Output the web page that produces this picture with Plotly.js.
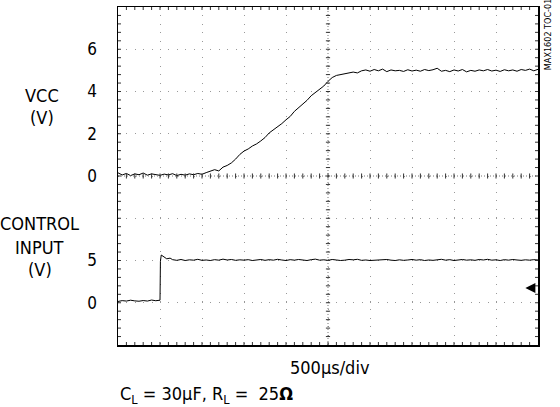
<!DOCTYPE html>
<html>
<head>
<meta charset="utf-8">
<script src="https://cdn.plot.ly/plotly-3.0.1.min.js"></script>
<style>html,body{margin:0;padding:0;background:#fff;}#chart{width:560px;height:407px;}</style>
</head>
<body>
<div id="chart"></div>
<script>
// ---- data ----
// time in microseconds (500 us/div, 10 div)
const vccTimeUs = [
  0,50,100,150,200,250,300,350,400,450,
  500,550,600,650,700,750,800,850,900,950,
  1000,1050,1100,1150,1200,1250,1300,1350,1400,1450,
  1500,1550,1600,1650,1700,1750,1800,1850,1900,1950,
  2000,2050,2100,2150,2200,2250,2300,2350,2400,2450,
  2500,2550,2600,2650,2700,2750,2800,2850,2900,2950,
  3000,3050,3100,3150,3200,3250,3300,3350,3400,3450,
  3500,3550,3600,3650,3700,3750,3800,3850,3900,3950,
  4000,4050,4100,4150,4200,4250,4300,4350,4400,4450,
  4500,4550,4600,4650,4700,4750,4800,4850,4900,4950,
  5000
];
const vccVolts = [
  0.15,0.05,0.12,0.02,0.10,0.06,0.14,0.04,0.10,0.08,
  0.03,0.09,0.05,0.11,0.02,0.08,0.04,0.10,0.06,0.12,
  0.08,0.16,0.22,0.30,0.24,0.42,0.50,0.62,0.80,1.02,
  1.18,1.28,1.42,1.52,1.66,1.82,2.04,2.18,2.30,2.48,
  2.66,2.82,3.06,3.22,3.40,3.58,3.80,3.94,4.08,4.26,
  4.48,4.66,4.76,4.80,4.84,4.86,4.92,4.88,4.98,5.02,
  4.96,5.04,4.98,5.06,4.94,5.02,4.98,5.00,4.95,5.03,
  4.97,5.01,4.96,5.04,4.99,5.03,5.10,4.96,5.00,4.94,
  5.02,4.97,5.04,4.93,5.00,4.96,5.02,4.98,5.04,4.97,
  5.01,4.95,5.03,4.98,5.02,4.96,5.04,5.00,5.06,4.98,
  5.05
];
const ctrlTimeUs = [
  0,50,100,150,200,250,300,350,400,450,500,
  505,515,540,580,620,
  650,700,750,800,850,900,950,1000,1050,1100,
  1150,1200,1250,1300,1350,1400,1450,1500,1550,1600,
  1650,1700,1750,1800,1850,1900,1950,2000,2050,2100,
  2150,2200,2250,2300,2350,2400,2450,2500,2550,2600,
  2650,2700,2750,2800,2850,2900,2950,3000,3050,3100,
  3150,3200,3250,3300,3350,3400,3450,3500,3550,3600,
  3650,3700,3750,3800,3850,3900,3950,4000,4050,4100,
  4150,4200,4250,4300,4350,4400,4450,4500,4550,4600,
  4650,4700,4750,4800,4850,4900,4950,5000
];
const ctrlVolts = [
  0.15,0.25,0.20,0.30,0.22,0.18,0.26,0.20,0.32,0.24,0.30,
  4.90,5.65,5.50,5.20,5.28,
  5.10,5.02,5.12,5.00,5.08,5.04,5.14,5.02,5.06,5.00,
  5.10,5.04,5.16,5.06,5.12,5.02,5.08,5.04,5.10,5.00,
  5.06,5.12,5.02,5.10,5.04,5.14,5.06,5.00,5.10,5.04,
  5.12,5.06,5.00,5.10,5.16,5.04,5.08,5.02,5.12,5.06,
  5.00,5.04,5.12,5.08,5.14,5.02,5.06,5.00,5.04,5.10,
  5.06,5.12,5.04,5.00,5.08,5.02,5.06,5.12,5.04,5.10,
  5.00,5.06,5.02,5.08,5.14,5.04,5.10,5.00,5.06,5.12,
  5.04,5.08,5.02,5.12,5.06,5.14,5.04,5.08,5.00,5.10,
  5.04,5.12,5.06,5.02,5.08,5.04,5.10,5.06
];
const vccTickVals = [0, 2, 4, 6];
const ctrlTickVals = [0, 5];

// ---- styling / layout ----
const FONT = "'Liberation Sans Narrow', 'Arial Narrow', 'DejaVu Sans Condensed', sans-serif";
const gridDash = '1px,7.4px';
const gridColor = '#999';

const traces = [
  {x: vccTimeUs, y: vccVolts, yaxis: 'y2', type: 'scatter', mode: 'lines',
   line: {color: '#000', width: 1}, hoverinfo: 'skip'},
  {x: ctrlTimeUs, y: ctrlVolts, yaxis: 'y3', type: 'scatter', mode: 'lines',
   line: {color: '#000', width: 1}, hoverinfo: 'skip'}
];

// graticule decoration: centre lines and small division ticks
const tickCol = '#333';
const shapes = [
  {type: 'line', xref: 'x', yref: 'paper', x0: 2500, x1: 2500, y0: 0, y1: 1,
   line: {color: '#777', width: 1, dash: '1px,2px'}},
  {type: 'line', xref: 'paper', yref: 'y', x0: 0, x1: 1, y0: 4, y1: 4,
   line: {color: '#777', width: 1, dash: '1px,2px'}}
];
const hTick = 3 / 338, wTick = 3 / 420;
for (let t = 100; t < 5000; t += 100) {
  shapes.push({type: 'line', xref: 'x', yref: 'y', x0: t, x1: t, y0: 3.94, y1: 4.06,
    line: {color: tickCol, width: 1}});
  shapes.push({type: 'line', xref: 'x', yref: 'paper', x0: t, x1: t, y0: 0, y1: hTick,
    line: {color: tickCol, width: 1}});
  shapes.push({type: 'line', xref: 'x', yref: 'paper', x0: t, x1: t, y0: 1 - hTick, y1: 1,
    line: {color: tickCol, width: 1}});
}
for (let d = 0.2; d < 7.99; d += 0.2) {
  shapes.push({type: 'line', xref: 'x', yref: 'y', x0: 2475, x1: 2525, y0: d, y1: d,
    line: {color: tickCol, width: 1}});
  shapes.push({type: 'line', xref: 'paper', yref: 'y', x0: 0, x1: wTick, y0: d, y1: d,
    line: {color: tickCol, width: 1}});
  shapes.push({type: 'line', xref: 'paper', yref: 'y', x0: 1 - wTick, x1: 1, y0: d, y1: d,
    line: {color: tickCol, width: 1}});
}

const lblFont = {family: FONT, size: 18, color: '#000'};
const annotations = [
  {text: 'VCC', x: -0.181, y: 0.737},
  {text: '(V)', x: -0.181, y: 0.672},
  {text: 'CONTROL', x: -0.188, y: 0.358},
  {text: 'INPUT', x: -0.186, y: 0.287},
  {text: '(V)', x: -0.186, y: 0.222},
  {text: '500µs/div', x: 0.505, y: -0.068},
  {text: 'C<sub>L</sub> = 30µF, R<sub>L</sub> =  25<b>Ω</b>', x: 0.0, y: -0.148, xanchor: 'left'}
].map(a => Object.assign({xref: 'paper', yref: 'paper', showarrow: false,
  xanchor: 'center', yanchor: 'middle', font: lblFont}, a));
annotations.push({text: 'MAX1602 TOC-01', xref: 'paper', yref: 'paper', x: 1.024, y: 0.917,
  textangle: -90, showarrow: false, xanchor: 'center', yanchor: 'middle',
  font: {family: FONT, size: 9, color: '#000'}});
annotations.push({text: '', xref: 'paper', yref: 'paper', x: 0.970, y: 0.1686,
  showarrow: true, ax: 10, ay: 0, arrowhead: 2, arrowsize: 1, arrowwidth: 2, arrowcolor: '#000'});

const layout = {
  width: 560, height: 407,
  margin: {l: 118, r: 22, t: 7, b: 62, pad: 0},
  paper_bgcolor: '#fff', plot_bgcolor: '#fff',
  showlegend: false,
  font: {family: FONT, color: '#000'},
  xaxis: {range: [0, 5000], tick0: 0, dtick: 500, showgrid: true, griddash: gridDash,
    gridcolor: gridColor, gridwidth: 1, showticklabels: false, ticks: '', zeroline: false,
    showline: true, linecolor: '#000', linewidth: 1.5, mirror: true, fixedrange: true},
  yaxis: {range: [0, 8], tick0: 0, dtick: 1, showgrid: true, griddash: gridDash,
    gridcolor: gridColor, gridwidth: 1, showticklabels: false, ticks: '', zeroline: false,
    showline: true, linecolor: '#000', linewidth: 1.5, mirror: true, fixedrange: true},
  yaxis2: {overlaying: 'y', side: 'left', anchor: 'x', range: [-8, 8],
    tickmode: 'array', tickvals: vccTickVals, ticktext: vccTickVals.map(String),
    showgrid: false, zeroline: false, showline: false, ticks: '', ticklabelstandoff: 20,
    tickfont: {family: FONT, size: 17, color: '#000'}, fixedrange: true},
  yaxis3: {overlaying: 'y', side: 'left', anchor: 'x', range: [-5, 35],
    tickmode: 'array', tickvals: ctrlTickVals, ticktext: ctrlTickVals.map(String),
    showgrid: false, zeroline: false, showline: false, ticks: '', ticklabelstandoff: 20,
    tickfont: {family: FONT, size: 17, color: '#000'}, fixedrange: true},
  shapes: shapes,
  annotations: annotations
};

Plotly.newPlot('chart', traces, layout, {staticPlot: true, displayModeBar: false});
</script>
</body>
</html>
